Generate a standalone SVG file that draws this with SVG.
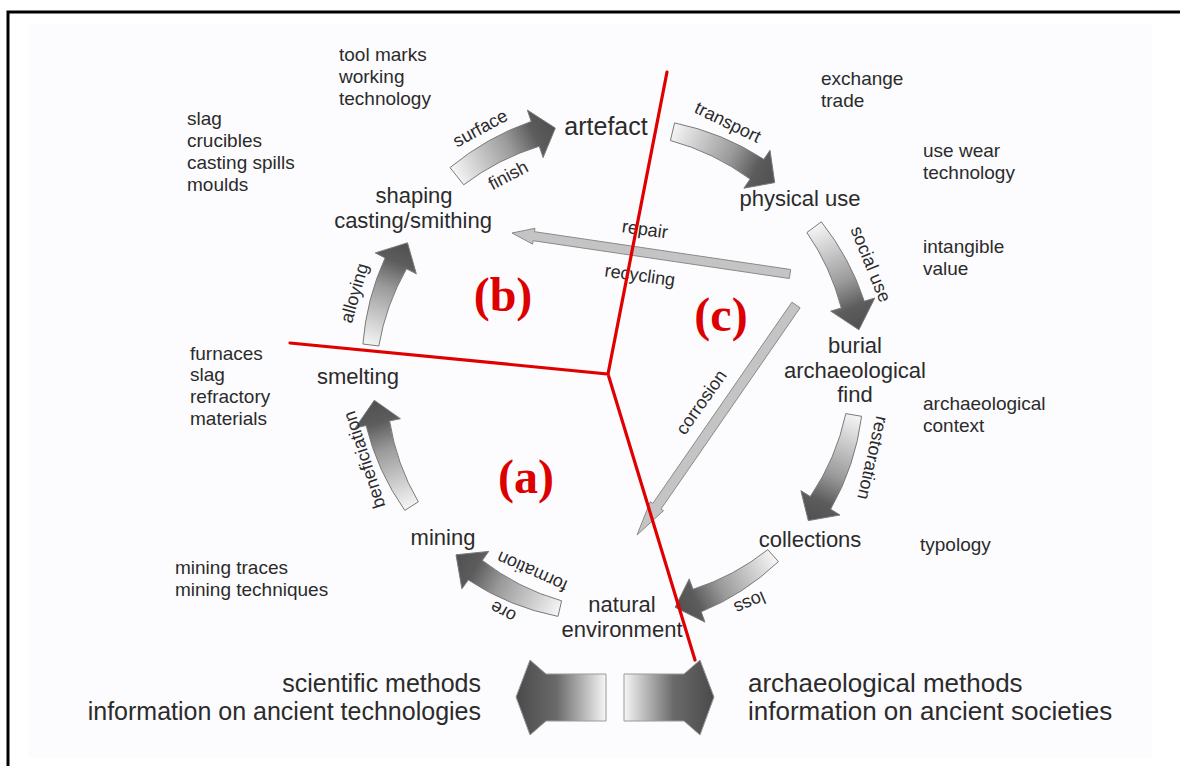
<svg xmlns="http://www.w3.org/2000/svg" width="1180" height="766" viewBox="0 0 1180 766">
<style>
.t{font-family:"Liberation Sans",Arial,sans-serif;fill:#2b2b2b}
.side{font-size:19px}
.node{font-size:22px;text-anchor:middle}
.arl{font-size:18px;text-anchor:middle}
.big{font-size:25px}
.red{font-family:"Liberation Serif","Times New Roman",serif;font-weight:bold;font-size:48px;fill:#dd0000;text-anchor:middle}
.carrow{stroke:#7a7a7a;stroke-width:1}
.sarrow{fill:#c4c4c4;stroke:#8a8a8a;stroke-width:1}
.redline{stroke:#e00000;stroke-width:3.2;fill:none;stroke-linecap:round}
</style>
<defs>
<linearGradient id="g1" gradientUnits="userSpaceOnUse" x1="456.8" y1="176.2" x2="555.3" y2="128.1"><stop offset="0" stop-color="#f4f4f4"/><stop offset="0.55" stop-color="#9a9a9a"/><stop offset="0.8" stop-color="#5c5c5c"/><stop offset="1" stop-color="#505050"/></linearGradient>
<linearGradient id="g2" gradientUnits="userSpaceOnUse" x1="672.5" y1="131.7" x2="774.7" y2="182.6"><stop offset="0" stop-color="#f4f4f4"/><stop offset="0.55" stop-color="#9a9a9a"/><stop offset="0.8" stop-color="#5c5c5c"/><stop offset="1" stop-color="#505050"/></linearGradient>
<linearGradient id="g3" gradientUnits="userSpaceOnUse" x1="814.1" y1="227.2" x2="858.9" y2="329.8"><stop offset="0" stop-color="#f4f4f4"/><stop offset="0.55" stop-color="#9a9a9a"/><stop offset="0.8" stop-color="#5c5c5c"/><stop offset="1" stop-color="#505050"/></linearGradient>
<linearGradient id="g4" gradientUnits="userSpaceOnUse" x1="853.7" y1="415" x2="808.3" y2="520.6"><stop offset="0" stop-color="#f4f4f4"/><stop offset="0.55" stop-color="#9a9a9a"/><stop offset="0.8" stop-color="#5c5c5c"/><stop offset="1" stop-color="#505050"/></linearGradient>
<linearGradient id="g5" gradientUnits="userSpaceOnUse" x1="773.1" y1="555.6" x2="675.1" y2="607.3"><stop offset="0" stop-color="#f4f4f4"/><stop offset="0.55" stop-color="#9a9a9a"/><stop offset="0.8" stop-color="#5c5c5c"/><stop offset="1" stop-color="#505050"/></linearGradient>
<linearGradient id="g6" gradientUnits="userSpaceOnUse" x1="559.8" y1="608.6" x2="456" y2="554.8"><stop offset="0" stop-color="#f4f4f4"/><stop offset="0.55" stop-color="#9a9a9a"/><stop offset="0.8" stop-color="#5c5c5c"/><stop offset="1" stop-color="#505050"/></linearGradient>
<linearGradient id="g7" gradientUnits="userSpaceOnUse" x1="411.5" y1="506.1" x2="374.3" y2="400.3"><stop offset="0" stop-color="#f4f4f4"/><stop offset="0.55" stop-color="#9a9a9a"/><stop offset="0.8" stop-color="#5c5c5c"/><stop offset="1" stop-color="#505050"/></linearGradient>
<linearGradient id="g8" gradientUnits="userSpaceOnUse" x1="370.8" y1="345" x2="407.5" y2="242.8"><stop offset="0" stop-color="#f4f4f4"/><stop offset="0.55" stop-color="#9a9a9a"/><stop offset="0.8" stop-color="#5c5c5c"/><stop offset="1" stop-color="#505050"/></linearGradient>
<linearGradient id="gl" gradientUnits="userSpaceOnUse" x1="516" y1="0" x2="606" y2="0"><stop offset="0" stop-color="#4a4a4a"/><stop offset="0.45" stop-color="#6a6a6a"/><stop offset="1" stop-color="#f6f6f6"/></linearGradient>
<linearGradient id="gr" gradientUnits="userSpaceOnUse" x1="624" y1="0" x2="714" y2="0"><stop offset="0" stop-color="#f6f6f6"/><stop offset="0.55" stop-color="#6a6a6a"/><stop offset="1" stop-color="#4a4a4a"/></linearGradient>
</defs>

<rect x="0" y="0" width="1180" height="766" fill="#ffffff"/>
<rect x="28" y="24" width="1124" height="734" fill="#fcfbfd"/>
<path d="M1180 12 H8 V766" fill="none" stroke="#000" stroke-width="3"/>

<g id="connectors">
<path id="a-surface" class="carrow" fill="url(#g1)" d="M450.0,167.6 A266,266 0 0 1 531.2,121.5 L527.4,110.1 L555.3,128.1 L543.1,157.6 L539.3,146.2 A242,242 0 0 0 463.7,184.8 Z"/>
<path id="a-transport" class="carrow" fill="url(#g2)" d="M674.6,122.9 A260,260 0 0 1 763.8,159.3 L770.0,150.3 L774.7,182.6 L743.9,188.2 L750.1,179.1 A240,240 0 0 0 670.4,140.5 Z"/>
<path id="a-social" class="carrow" fill="url(#g3)" d="M821.3,221.8 A258,258 0 0 1 864.3,301.2 L874.8,298.0 L858.9,329.8 L830.7,311.1 L841.3,308.0 A237,237 0 0 0 806.9,232.5 Z"/>
<path id="a-restoration" class="carrow" fill="url(#g4)" d="M861.6,416.3 A252,252 0 0 1 830.6,509.2 L840.0,515.0 L808.3,520.6 L800.9,490.7 L810.3,496.5 A232,232 0 0 0 845.8,413.6 Z"/>
<path id="a-loss" class="carrow" fill="url(#g5)" d="M778.4,561.6 A250,250 0 0 1 701.2,611.8 L704.9,622.1 L675.1,607.3 L689.2,578.9 L693.0,589.3 A230,230 0 0 0 767.8,549.6 Z"/>
<path id="a-ore" class="carrow" fill="url(#g6)" d="M558.0,616.4 A250,250 0 0 1 468.3,579.9 L461.9,588.8 L456.0,554.8 L488.7,551.4 L482.3,560.4 A230,230 0 0 0 561.6,600.8 Z"/>
<path id="a-benef" class="carrow" fill="url(#g7)" d="M404.8,510.4 A252,252 0 0 1 366.1,425.6 L355.3,427.8 L374.3,400.3 L400.4,418.7 L389.6,420.9 A232,232 0 0 0 418.3,501.8 Z"/>
<path id="a-alloy" class="carrow" fill="url(#g8)" d="M362.9,344.0 A256,256 0 0 1 385.1,257.9 L375.3,252.9 L407.5,242.8 L416.3,273.8 L406.5,268.8 A236,236 0 0 0 378.8,346.0 Z"/>
<path id="a-repair" class="sarrow" d="M790.7,269.5 L534.5,231.7 L535.0,228.3 L512,233 L532.6,244.1 L533.1,240.7 L789.3,278.5 Z"/>
<path id="a-corrosion" class="sarrow" d="M800.1,307.8 L661.0,509.0 L663.5,510.7 L637,535 L650.3,501.7 L652.8,503.4 L791.9,302.2 Z"/>
<path id="a-left" fill="url(#gl)" stroke="#9a9a9a" stroke-width="1" d="M606,674 L546,674 L530,660 L516,697 L530,735 L546,721 L606,721 Z"/>
<path id="a-right" fill="url(#gr)" stroke="#9a9a9a" stroke-width="1" d="M624,674 L684,674 L700,660 L714,697 L700,735 L684,721 L624,721 Z"/>

<g class="t arl">
<text transform="translate(480,128) rotate(-28.5)" dy="0.35em">surface</text>
<text transform="translate(508,175) rotate(-28)" dy="0.35em">finish</text>
<text transform="translate(728,122) rotate(26)" dy="0.35em">transport</text>
<text transform="translate(871,264) rotate(68)" dy="0.35em">social use</text>
<text transform="translate(873,458) rotate(103)" dy="0.35em">restoration</text>
<text transform="translate(750,603) rotate(157)" dy="0.35em">loss</text>
<text transform="translate(532,572) rotate(204)" dy="0.35em">formation</text>
<text transform="translate(503,612) rotate(208)" dy="0.35em">ore</text>
<text transform="translate(364,460) rotate(-108)" dy="0.35em">beneficiation</text>
<text transform="translate(354,293) rotate(-74)" dy="0.35em">alloying</text>
<text transform="translate(645,229) rotate(8)" dy="0.35em">repair</text>
<text transform="translate(640,275) rotate(8)" dy="0.35em">recycling</text>
<text transform="translate(701,402) rotate(-55)" dy="0.35em">corrosion</text>
</g>
</g>

<g id="dividers">
<path class="redline" d="M667,72 L608,374 L290,343 M608,374 L695,660"/>
<text class="red" x="503" y="311">(b)</text>
<text class="red" x="721" y="331">(c)</text>
<text class="red" x="526" y="493">(a)</text>
</g>

<g id="node-artefact"><text class="t node" x="606" y="135" style="font-size:25px">artefact</text></g>
<g id="node-shaping"><text class="t node" x="414" y="203">shaping</text><text class="t node" x="413" y="228">casting/smithing</text></g>
<g id="node-physical"><text class="t node" x="800" y="206">physical use</text></g>
<g id="node-burial"><text class="t node" x="855" y="353">burial</text><text class="t node" x="855" y="378">archaeological</text><text class="t node" x="855" y="402">find</text></g>
<g id="node-collections"><text class="t node" x="810" y="547">collections</text></g>
<g id="node-natural"><text class="t node" x="622" y="612">natural</text><text class="t node" x="622" y="637">environment</text></g>
<g id="node-mining"><text class="t node" x="443" y="545">mining</text></g>
<g id="node-smelting"><text class="t node" x="358" y="384">smelting</text></g>

<g id="notes" class="t side">
<text x="339" y="61">tool marks</text><text x="339" y="83">working</text><text x="339" y="105">technology</text>
<text x="187" y="125">slag</text><text x="187" y="147">crucibles</text><text x="187" y="169">casting spills</text><text x="187" y="191">moulds</text>
<text x="821" y="85">exchange</text><text x="821" y="107">trade</text>
<text x="923" y="157">use wear</text><text x="923" y="179">technology</text>
<text x="923" y="253">intangible</text><text x="923" y="275">value</text>
<text x="190" y="360">furnaces</text><text x="190" y="381">slag</text><text x="190" y="403">refractory</text><text x="190" y="425">materials</text>
<text x="923" y="410">archaeological</text><text x="923" y="432">context</text>
<text x="920" y="551">typology</text>
<text x="175" y="574">mining traces</text><text x="175" y="596">mining techniques</text>
</g>

<g id="methods-left" class="t big" style="text-anchor:end">
<text x="481" y="692">scientific methods</text>
<text x="481" y="720">information on ancient technologies</text>
</g>
<g id="methods-right" class="t big" style="font-size:26px">
<text x="748" y="692">archaeological methods</text>
<text x="748" y="720">information on ancient societies</text>
</g>
</svg>
